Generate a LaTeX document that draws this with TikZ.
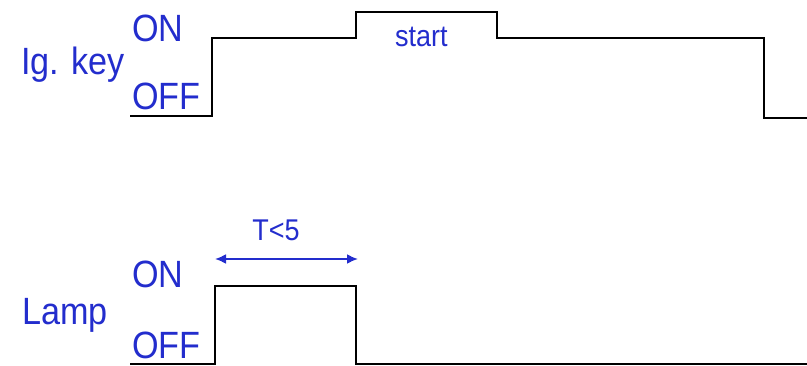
\documentclass[tikz,border=0pt]{standalone}
\usepackage{fontspec}
\setmainfont[FakeStretch=0.9]{Liberation Sans}
\usetikzlibrary{arrows.meta,positioning}
\definecolor{txtblue}{RGB}{35,45,205}

\begin{document}
\begin{tikzpicture}[x=1pt,y=-1pt,
  lbl/.style={text=txtblue,inner sep=0pt,anchor=base west,font=\fontsize{38}{38}\selectfont},
  small/.style={lbl,font=\fontsize{30}{30}\selectfont},
  sig/.style={line width=2pt,black}]
  \useasboundingbox (0,0) rectangle (807,366);
  % ignition key
  \node[lbl] (key) at (21,75) {Ig. key};
  \node[lbl] (keyon) at (132,42) {ON};
  \node[lbl] (keyoff) at (132,110) {OFF};
  \node[small] (start) at (395,47) {start};
  \draw[sig] (130,116) -- (212,116) -- (212,38) -- (356,38) -- (356,12)
    -- (497,12) -- (497,38) -- (764,38) -- (764,118) -- (807,118);
  % lamp
  \node[lbl] (lamp) at (22,325) {Lamp};
  \node[lbl] (lampon) at (132,288) {ON};
  \node[lbl] (lampoff) at (132,359) {OFF};
  \draw[sig] (130,364) -- (215,364) -- (215,286) -- (356,286) -- (356,364) -- (807,364);
  \coordinate (tbeg) at (215,259);
  \coordinate (tend) at (358,259);
  \draw[{Latex[length=11pt,width=10pt]}-{Latex[length=11pt,width=10pt]},txtblue,line width=2pt] (tbeg) -- (tend);
  \node[small,anchor=base] (tlim) at (276,241) {T<5};
\end{tikzpicture}
\end{document}
